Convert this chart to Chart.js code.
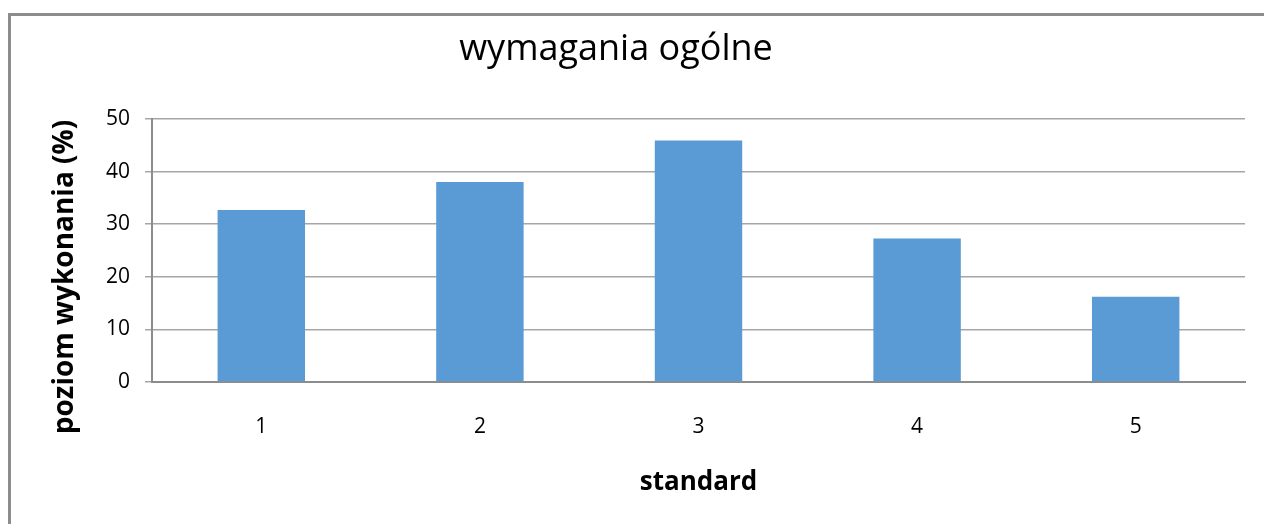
<!DOCTYPE html>
<html lang="pl">
<head>
    <meta charset="UTF-8">
    <title>wymagania ogólne</title>
    <script src="https://cdn.jsdelivr.net/npm/chart.js"></script>
    <style>
        html, body { margin: 0; padding: 0; background: #fff; overflow: hidden; }
        #frame {
            position: absolute; left: 8px; top: 13px;
            width: 1300px; height: 560px;
            border: 3px solid #8c8c8c;
        }
        #wrap { position: absolute; left: 0; top: 0; width: 1264px; height: 524px; }
    </style>
</head>
<body>
    <div id="frame"></div>
    <div id="wrap"><canvas id="chart"></canvas></div>
    <script>
        // dane z wykresu
        const categories = ['1', '2', '3', '4', '5'];
        const values = [32.7, 38.0, 45.9, 27.3, 16.2];
        const yTicks = [0, 10, 20, 30, 40, 50];

        const chartTitle = 'wymagania ogólne';
        const yTitle = 'poziom wykonania (%)';
        const xTitle = 'standard';

        const FONT = "'Open Sans', sans-serif";

        // tytuł wykresu i osi Y są wyśrodkowane na całym obiekcie (jak w Excelu), nie na obszarze kreślenia
        const excelTexts = {
            id: 'excelTexts',
            afterDraw(chart) {
                const c = chart.ctx;
                c.save();
                c.fillStyle = '#000';
                c.textAlign = 'center';
                c.textBaseline = 'middle';
                c.font = `normal 36px ${FONT}`;
                c.fillText(chartTitle, 616, 50);
                c.translate(65, 277);
                c.rotate(-Math.PI / 2);
                c.font = `bold 28px ${FONT}`;
                c.fillText(yTitle, 0, 0);
                c.restore();
            }
        };

        const ctx = document.getElementById('chart').getContext('2d');
        new Chart(ctx, {
            type: 'bar',
            data: {
                labels: categories,
                datasets: [{
                    data: values,
                    backgroundColor: '#5b9bd5',
                    borderWidth: 0,
                    categoryPercentage: 1,
                    barPercentage: 0.4
                }]
            },
            options: {
                responsive: true,
                maintainAspectRatio: false,
                animation: false,
                layout: { padding: { left: 49, right: 19, top: 119, bottom: 0 } },
                plugins: {
                    legend: { display: false },
                    tooltip: { enabled: false },
                    title: { display: false }
                },
                scales: {
                    x: {
                        grid: { display: false, drawTicks: false },
                        border: { color: '#8c8c8c', width: 2 },
                        ticks: { color: '#000', font: { family: FONT, size: 21 }, padding: 32 },
                        title: {
                            display: true,
                            text: xTitle,
                            color: '#000',
                            font: { family: FONT, size: 26, weight: 'bold', lineHeight: 1.2 },
                            padding: { top: 20, bottom: 26 }
                        },
                        afterFit: s => { s.height = 142; }
                    },
                    y: {
                        min: 0,
                        max: 50,
                        afterBuildTicks: s => { s.ticks = yTicks.map(v => ({ value: v })); },
                        grid: { color: '#a6a6a6', lineWidth: 1.5, tickLength: 7 },
                        border: { color: '#8c8c8c', width: 2 },
                        ticks: { color: '#000', font: { family: FONT, size: 21 }, padding: 15 },
                        afterFit: s => { s.width = 103; }
                    }
                }
            },
            plugins: [excelTexts]
        });
    </script>
</body>
</html>
